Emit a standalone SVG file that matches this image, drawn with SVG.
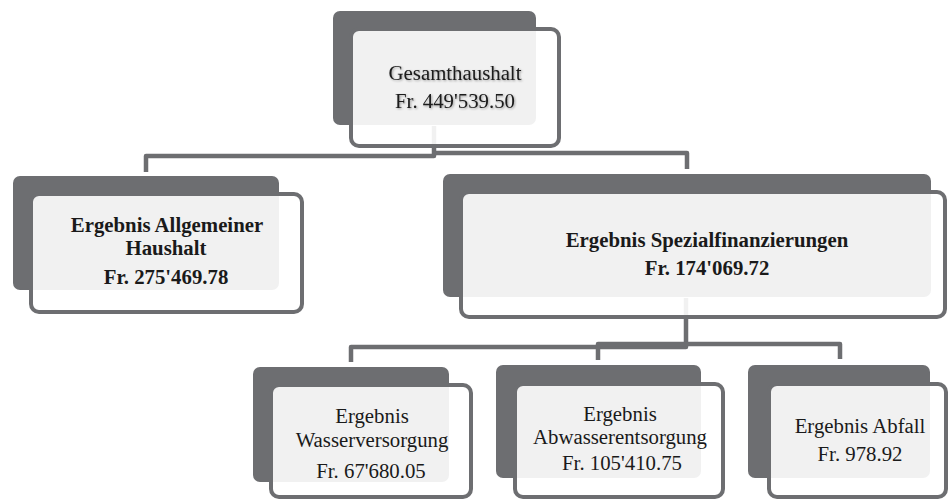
<svg xmlns="http://www.w3.org/2000/svg" width="949" height="500" viewBox="0 0 949 500">
<defs>
<filter id="sh" x="-10%" y="-30%" width="120%" height="160%">
<feDropShadow dx="1" dy="1" stdDeviation="0.8" flood-color="#000" flood-opacity="0.35"/>
</filter>
</defs>
<style>
.back{fill:#6d6e71}
.front{fill:#ffffff;fill-opacity:0.9;stroke:#6d6e71;stroke-width:4}
.con{fill:none;stroke:#6d6e71;stroke-width:4.5;stroke-linejoin:round}
text{font-family:"Liberation Serif","Times New Roman",serif;font-size:20.8px;fill:#1a1a1a;text-anchor:middle}
.b{font-weight:bold}
</style>
<rect width="949" height="500" fill="#ffffff"/>
<g id="connectors">
<path class="con" d="M434,126 V156 H146 V172"/>
<path class="con" d="M434,153 H687 V169"/>
<path class="con" d="M686,298 V347 H351 V362"/>
<path class="con" d="M598,360 V344 H840 V359"/>
</g>
<g id="gesamt">
<rect class="back" x="333" y="11" width="203" height="114" rx="7"/>
<rect class="front" x="351" y="29" width="208" height="117" rx="8"/>
<g filter="url(#sh)">
<text x="455" y="80">Gesamthaushalt</text>
<text x="455" y="108">Fr. 449'539.50</text>
</g>
</g>
<g id="allgemein">
<rect class="back" x="13" y="176" width="266" height="114" rx="7"/>
<rect class="front" x="31" y="194" width="271" height="118" rx="8"/>
<text class="b" x="167" y="232">Ergebnis Allgemeiner</text>
<text class="b" x="166" y="255">Haushalt</text>
<text class="b" x="166" y="284">Fr. 275'469.78</text>
</g>
<g id="spezial">
<rect class="back" x="443" y="174" width="488" height="123" rx="7"/>
<rect class="front" x="461" y="192" width="484" height="125" rx="8"/>
<text class="b" x="707" y="247">Ergebnis Spezialfinanzierungen</text>
<text class="b" x="707" y="275">Fr. 174'069.72</text>
</g>
<g id="wasser">
<rect class="back" x="253" y="367" width="196" height="115" rx="7"/>
<rect class="front" x="271" y="385" width="200" height="112" rx="8"/>
<text x="372" y="423">Ergebnis</text>
<text x="372" y="447">Wasserversorgung</text>
<text x="371" y="478">Fr. 67'680.05</text>
</g>
<g id="abwasser">
<rect class="back" x="496" y="365" width="205" height="113" rx="7"/>
<rect class="front" x="515" y="384" width="208" height="113" rx="8"/>
<text x="620" y="421">Ergebnis</text>
<text x="620" y="444">Abwasserentsorgung</text>
<text x="622" y="470">Fr. 105'410.75</text>
</g>
<g id="abfall">
<rect class="back" x="748" y="365" width="182" height="113" rx="7"/>
<rect class="front" x="769" y="384" width="177" height="113" rx="8"/>
<text x="860" y="433">Ergebnis Abfall</text>
<text x="860" y="461">Fr. 978.92</text>
</g>
</svg>
